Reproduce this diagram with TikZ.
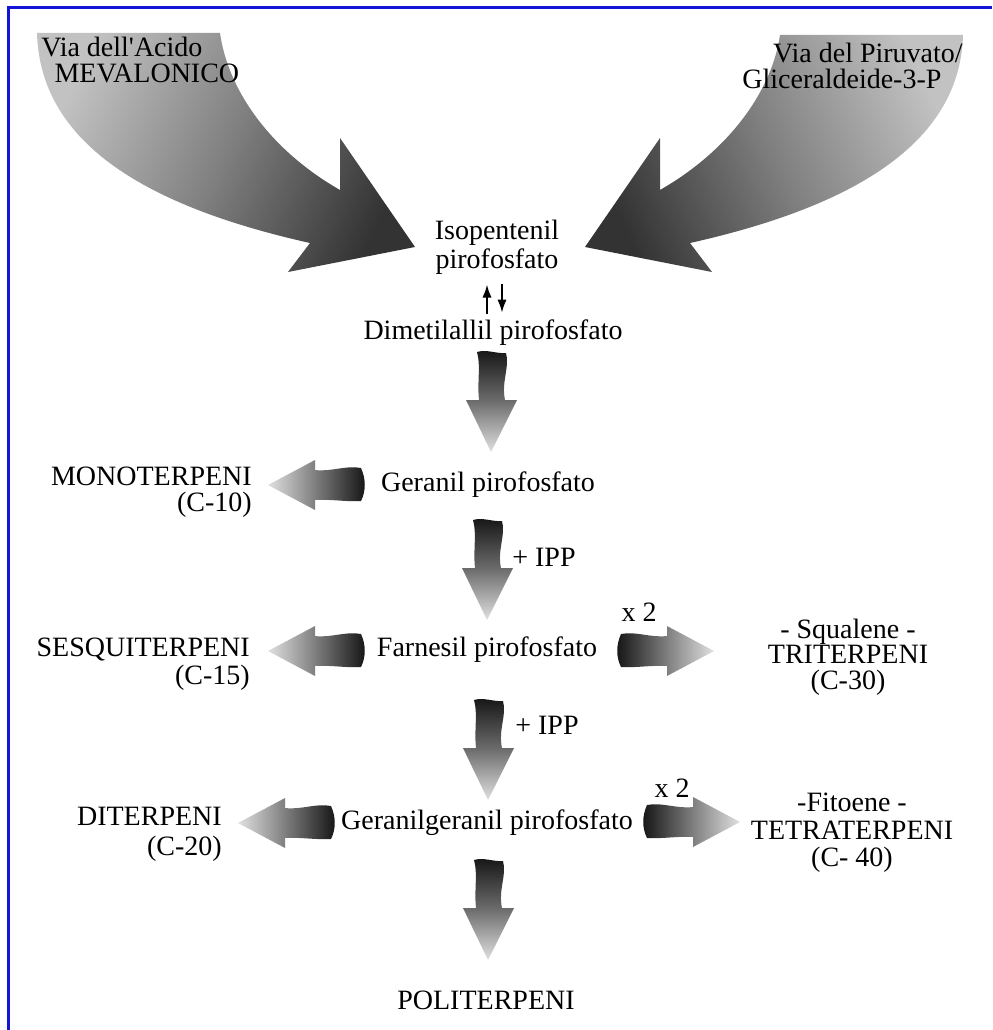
\documentclass[tikz,border=0pt]{standalone}
\usepackage{fontspec}
\setmainfont{Liberation Serif}
\usetikzlibrary{arrows.meta,calc}
\definecolor{bordblue}{RGB}{20,20,215}
\tikzset{
  fatdown/.pic={
    \shade[top color=black!92, bottom color=black!12, middle color=black!58]
      (-14,-50) .. controls (-4,-53) and (6,-48) .. (15,-49)
      .. controls (19,-35) and (10,-20) .. (14,-2) -- (26,-2) -- (0,50) -- (-25,-2) -- (-12,-2)
      .. controls (-14,-20) and (-10,-36) .. (-14,-50) -- cycle;
  },
  fatleft/.pic={
    \shade[left color=black!12, right color=black!92, middle color=black!52]
      (-48,0) -- (-1,-25) -- (-1,-15) .. controls (15,-13) and (30,-20) .. (45,-17)
      .. controls (50,-6) and (50,6) .. (45,16) .. controls (30,17) and (15,14) .. (-1,15)
      -- (-1,25) -- cycle;
  },
  fatright/.pic={
    \shade[left color=black!92, right color=black!12, middle color=black!52]
      (48,0) -- (1,-25) -- (1,-15) .. controls (-15,-13) and (-30,-20) .. (-45,-17)
      .. controls (-50,-6) and (-50,6) .. (-45,16) .. controls (-30,17) and (-15,14) .. (1,15)
      -- (1,25) -- cycle;
  }
}
\begin{document}
\begin{tikzpicture}[x=0.75pt,y=-0.75pt,
  txt/.style={font=\fontsize{21}{25}\selectfont, inner sep=0pt, align=center},
  thinarr/.style={line width=1.7pt, -{Latex[length=10pt,width=7pt]}}]
\useasboundingbox (0,0) rectangle (992,1030);
\fill[white] (0,0) rectangle (992,1030);
\draw[line width=2.25pt, color=bordblue] (8.5,1030) -- (8.5,8) -- (992,8);

% big incoming arrows
\shade[top color=black!24, bottom color=black!80, middle color=black!50, shading angle=65]
  (37,33) -- (220,33) .. controls (228,90) and (270,150) .. (340,190)
  -- (340,138) -- (415,247) -- (288,272) -- (310,243)
  .. controls (140,205) and (40,140) .. (37,33) -- cycle;
\shade[top color=black!24, bottom color=black!80, middle color=black!50, shading angle=-65]
  (963,35) -- (780,35) .. controls (772,90) and (730,150) .. (660,190)
  -- (660,138) -- (585,247) -- (712,272) -- (690,243)
  .. controls (860,205) and (960,140) .. (963,35) -- cycle;

% texts
\node[txt, align=left, anchor=west] (mev) at (41,60) {Via dell\textquotesingle Acido\\[-6pt]\hspace*{10pt}MEVALONICO};
\node[txt, align=right, anchor=east] (pir) at (963,66) {Via del Piruvato/\\[-5pt]Gliceraldeide-3-P\hspace*{16pt}};
\node[txt] (ipp) at (497,247) {Isopentenil\\[-3.5pt]pirofosfato};
\node[txt] (dmapp) at (493,333) {Dimetilallil pirofosfato};
\node[txt] (gpp) at (488,485) {Geranil pirofosfato};
\node[txt] (fpp) at (487,650) {Farnesil pirofosfato};
\node[txt] (ggpp) at (487,823) {Geranilgeranil pirofosfato};
\node[txt] (poli) at (486,1000) {POLITERPENI};
\node[txt, align=right, anchor=east] (mono) at (252,492) {MONOTERPENI\\[-5.5pt](C-10)};
\node[txt, align=right, anchor=east] (sesqui) at (250,664) {SESQUITERPENI\\[-4pt](C-15)};
\node[txt, align=right, anchor=east] (di) at (222,834) {DITERPENI\\[-2.5pt](C-20)};
\node[txt] (tri) at (848,657) {- Squalene -\\[-6pt]TRITERPENI\\[-6pt](C-30)};
\node[txt] (tetra) at (852,833) {-Fitoene -\\[-4.5pt]TETRATERPENI\\[-4.5pt](C- 40)};
\node[txt] (xa) at (639,612) {x 2};
\node[txt] (xb) at (672,788) {x 2};
\node[txt] (ippa) at (544,557) {+ IPP};
\node[txt] (ippb) at (547,725) {+ IPP};

% equilibrium arrows
\draw[thinarr] ($(dmapp.north)+(-6,-6)$) -- ($(ipp.south)+(-10,10)$);
\draw[thinarr] ($(ipp.south)+(5,10)$) -- ($(dmapp.north)+(9,-7)$);

% fat ribbon arrows
\pic at (491,402) {fatdown};
\pic at (487,570) {fatdown};
\pic at (488,750) {fatdown};
\pic at (488,910) {fatdown};
\pic at (316,485) {fatleft};
\pic at (316,651) {fatleft};
\pic at (286,823) {fatleft};
\pic at (666,651) {fatright};
\pic at (692,822) {fatright};
\end{tikzpicture}
\end{document}
